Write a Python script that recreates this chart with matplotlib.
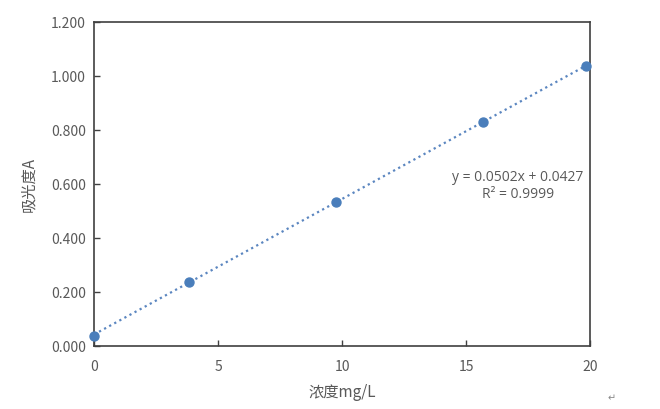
import numpy as np
import matplotlib
matplotlib.use("Agg")
import matplotlib.pyplot as plt

plt.rcParams['font.family'] = ['Noto Sans CJK SC', 'DejaVu Sans']

# concentration (mg/L) and absorbance
conc = [0, 3.85, 9.75, 15.7, 19.85]
absorb = [0.038, 0.238, 0.533, 0.831, 1.038]

slope = 0.0502
intercept = 0.0427
eq_text = "y = 0.0502x + 0.0427"
r2_text = "R² = 0.9999"

x_ticks = [0, 5, 10, 15, 20]
y_ticks = [0.0, 0.2, 0.4, 0.6, 0.8, 1.0, 1.2]

grey = "#595959"
axis_col = "#404040"

fig = plt.figure(figsize=(6.6, 4.09), dpi=100)
ax = fig.add_axes([0.1424, 0.154, 0.7516, 0.792])

# trendline
xt = np.array([0, 20])
ax.plot(xt, slope * xt + intercept, linestyle=(0, (1, 1.6)), color="#5B86C0",
        linewidth=1.6, zorder=2)
ax.scatter(conc, absorb, s=42, color="#4A7EBB", zorder=3, clip_on=False)

ax.set_xlim(0, 20)
ax.set_ylim(0, 1.2)
ax.set_xticks(x_ticks)
ax.set_yticks(y_ticks)
ax.set_yticklabels(["%.3f" % v for v in y_ticks])

ax.tick_params(axis="both", direction="in", length=4, width=1, colors=axis_col,
               labelcolor=grey, labelsize=10, top=False, right=False)
ax.tick_params(axis="x", pad=10)
ax.tick_params(axis="y", pad=6)
for sp in ax.spines.values():
    sp.set_color(axis_col)
    sp.set_linewidth(1.2)

ax.set_xlabel("浓度mg/L", fontsize=11, color=grey, labelpad=7)
ax.set_ylabel("吸光度A", fontsize=11, color=grey, labelpad=10)

ax.text(17.1, 0.626, eq_text, ha="center", va="center", fontsize=10, color=grey,
        family=["Open Sans", "DejaVu Sans"])
ax.text(17.1, 0.561, r2_text, ha="center", va="center", fontsize=10, color=grey,
        family=["Open Sans", "DejaVu Sans"])

fig.text(0.927, 0.027, "↵", fontsize=7, color="#888888", ha="center", va="center",
         family="DejaVu Sans")

fig.savefig("out.png", dpi=100)
